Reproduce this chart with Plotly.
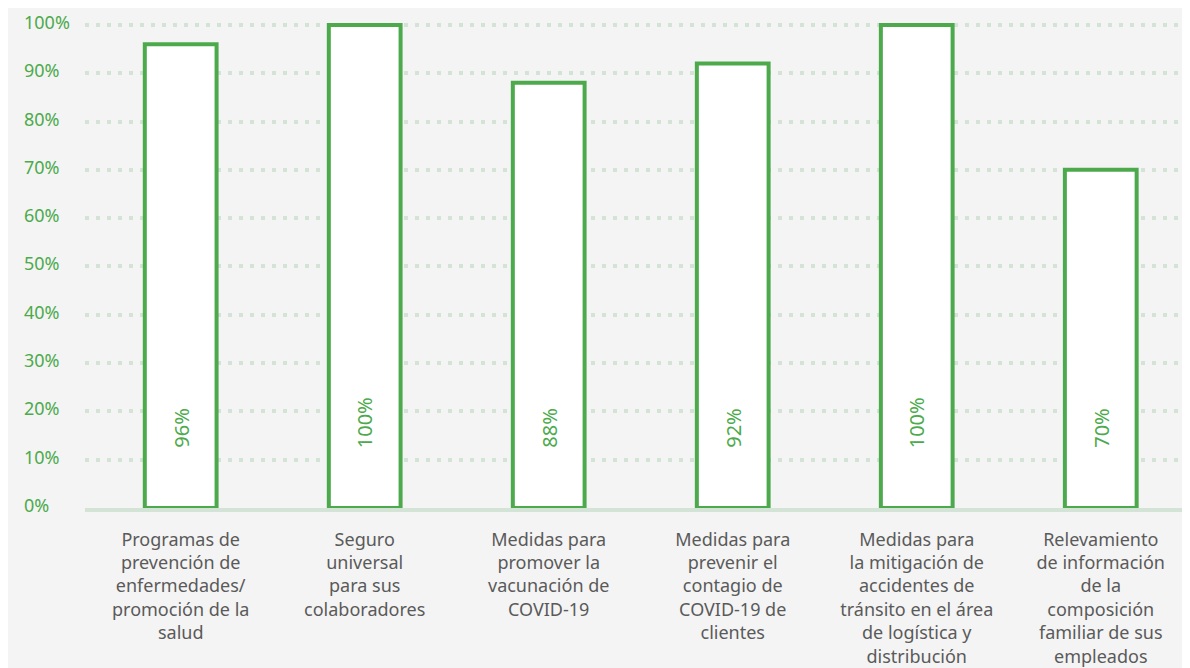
import plotly.graph_objects as go

categories = [
    "Programas de<br>prevención de<br>enfermedades/<br>promoción de la<br>salud",
    "Seguro<br>universal<br>para sus<br>colaboradores",
    "Medidas para<br>promover la<br>vacunación de<br>COVID-19",
    "Medidas para<br>prevenir el<br>contagio de<br>COVID-19 de<br>clientes",
    "Medidas para<br>la mitigación de<br>accidentes de<br>tránsito en el área<br>de logística y<br>distribución",
    "Relevamiento<br>de información<br>de la<br>composición<br>familiar de sus<br>empleados",
]
values = [96, 100, 88, 92, 100, 70]
y_ticks = [0, 10, 20, 30, 40, 50, 60, 70, 80, 90, 100]
y_tick_labels = [f"{v}%" for v in y_ticks]
value_labels = [f"{v}%" for v in values]

GREEN = "#4caa4c"
GRID = "#d3e4d7"
BG = "#f4f4f4"
FONT = "Noto Sans"

fig = go.Figure()
fig.add_trace(go.Bar(
    x=categories, y=values, width=0.39,
    marker=dict(color="white", line=dict(color=GREEN, width=4)),
    cliponaxis=False, hoverinfo="skip",
))

annotations = []
for t, lab in zip(y_ticks, y_tick_labels):
    annotations.append(dict(
        xref="paper", yref="y", x=0, y=t, xshift=-63, yshift=3,
        xanchor="left", yanchor="middle", text=lab, showarrow=False,
        font=dict(family=FONT, size=18, color=GREEN),
    ))
for c, lab in zip(categories, value_labels):
    annotations.append(dict(
        xref="x", yref="y", x=c, y=12, xanchor="center", yanchor="bottom",
        text=lab, textangle=-90, showarrow=False,
        font=dict(family=FONT, size=20, color=GREEN),
    ))

fig.update_layout(
    width=1182, height=660,
    margin=dict(l=77, r=0, t=14, b=158),
    paper_bgcolor=BG, plot_bgcolor=BG,
    showlegend=False,
    annotations=annotations,
    font=dict(family=FONT),
)
fig.update_xaxes(
    type="category", range=[-0.52, 5.485],
    showgrid=False, showline=True, linecolor=GRID, linewidth=4,
    layer="below traces", ticks="", ticklabelstandoff=12,
    tickfont=dict(family=FONT, size=18, color="#5a5a5a"),
)
fig.update_yaxes(
    range=[0, 100.6], tickvals=y_ticks, showticklabels=False,
    showgrid=True, gridcolor=GRID, gridwidth=4, griddash="4px,7px",
    zeroline=False, showline=False,
)

fig.write_html("out.html")
